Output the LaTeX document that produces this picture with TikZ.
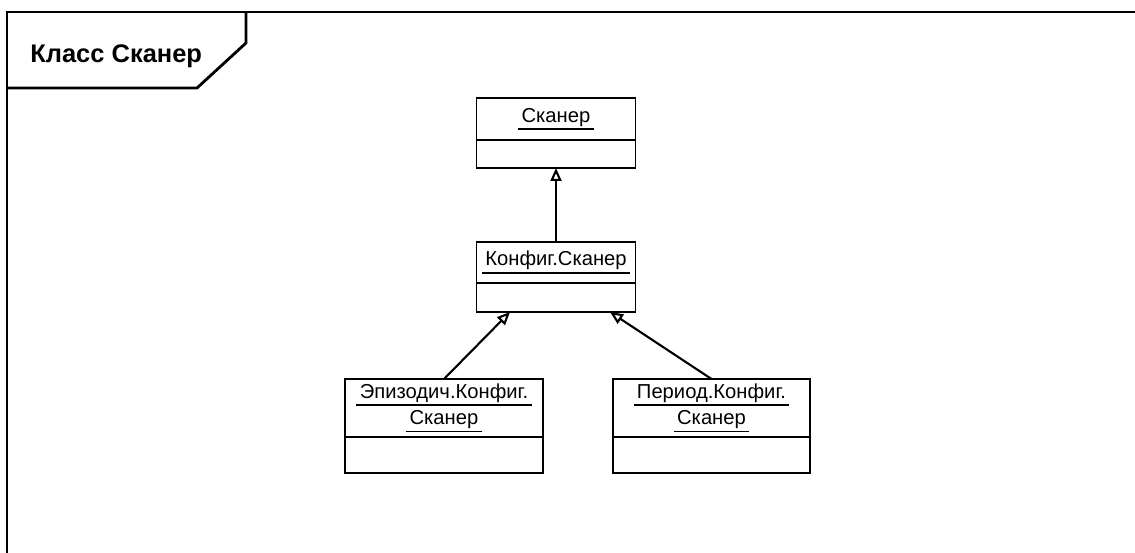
\documentclass[tikz,border=0pt]{standalone}
\usepackage{fontspec}
\setmainfont{Liberation Sans}
\usetikzlibrary{arrows.meta,positioning}
\newcommand{\objname}[1]{\setbox0\hbox{\,#1\,}\leavevmode\rlap{\rule[-4.5pt]{\wd0}{1.1pt}}\box0}

\begin{document}
\begin{tikzpicture}[x=0.02cm,y=-0.02cm,
	>={Triangle[open,length=0.26cm,width=0.22cm]},
	cls/.style={draw,line width=1.1pt,outer sep=0pt,minimum width=3.18cm,minimum height=0.84cm,inner sep=2pt,
		align=center,font=\fontsize{11.5}{15}\selectfont},
	clsb/.style={draw,line width=1.1pt,outer sep=0pt,minimum width=3.18cm,minimum height=0.56cm},
	gen/.style={->,line width=1.2pt},
	frame/.style={line width=1.6pt}]
	\useasboundingbox (0,0) rectangle (1135,553);
	% frame and title tab
	\draw[frame] (7,553) -- (7,12) -- (1135,12);
	\draw[frame] (7,88) -- (197,88) -- (246,43) -- (246,12);
	\node (title) [anchor=base west,inner sep=0pt,font=\fontsize{14.5}{17}\selectfont\bfseries] at (30,63) {Класс Сканер};
	% classes
	\node[cls] (a) at (556,119) {\objname{Сканер}};
	\node[clsb] (a2) [below=0cm of a] {};
	\node[cls,minimum height=0.82cm] (b) at (556,262.5) {\objname{Конфиг.Сканер}};
	\node[clsb,minimum height=0.58cm] (b2) [below=0cm of b] {};
	\node[cls,minimum width=3.96cm,minimum height=1.16cm] (c) at (444,408) {\objname{Эпизодич.Конфиг.}\\\objname{Сканер}};
	\node[clsb,minimum width=3.96cm,minimum height=0.72cm] (c2) [below=0cm of c] {};
	\node[cls,minimum width=3.94cm,minimum height=1.16cm] (d) at (711.5,408) {\objname{Период.Конфиг.}\\\objname{Сканер}};
	\node[clsb,minimum width=3.94cm,minimum height=0.72cm] (d2) [below=0cm of d] {};
	% generalisations
	\path (b.north) edge[gen] (a2.south);
	\path (c.north) edge[gen] ([xshift=-0.92cm]b2.south);
	\path (d.north) edge[gen] ([xshift=1.08cm]b2.south);
\end{tikzpicture}
\end{document}
